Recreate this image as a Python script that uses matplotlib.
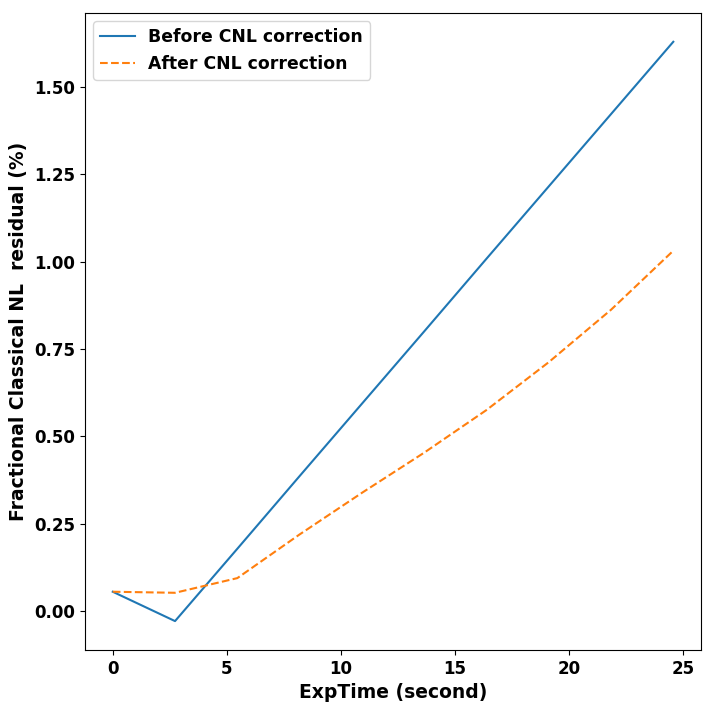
import matplotlib
matplotlib.use('Agg')
import matplotlib.pyplot as plt

# exposure times (s)
exp_time = [0.0, 2.73, 5.46, 8.19, 10.92, 13.65, 16.38, 19.11, 21.84, 24.57]

# fractional classical NL residual (%)
before_cnl = [0.055, -0.029, 0.178, 0.386, 0.593, 0.800, 1.008, 1.215, 1.422, 1.629]
after_cnl = [0.055, 0.052, 0.094, 0.219, 0.338, 0.453, 0.575, 0.712, 0.862, 1.031]

fig, ax = plt.subplots(figsize=(7.12, 7.12), dpi=100)

ax.plot(exp_time, before_cnl, '-', color='#1f77b4', label='Before CNL correction')
ax.plot(exp_time, after_cnl, '--', color='#ff7f0e', label='After CNL correction')

ax.set_xlabel('ExpTime (second)', fontsize=13.5, fontweight='bold')
ax.set_ylabel('Fractional Classical NL  residual (%)', fontsize=13.5, fontweight='bold')
for lab in ax.get_xticklabels() + ax.get_yticklabels():
    lab.set_fontweight('bold')
    lab.set_fontsize(12)

ax.legend(loc='upper left', prop={'weight': 'bold', 'size': 12.4})

fig.subplots_adjust(left=0.119, right=0.985, top=0.982, bottom=0.087)
fig.savefig('out.png', dpi=100)
